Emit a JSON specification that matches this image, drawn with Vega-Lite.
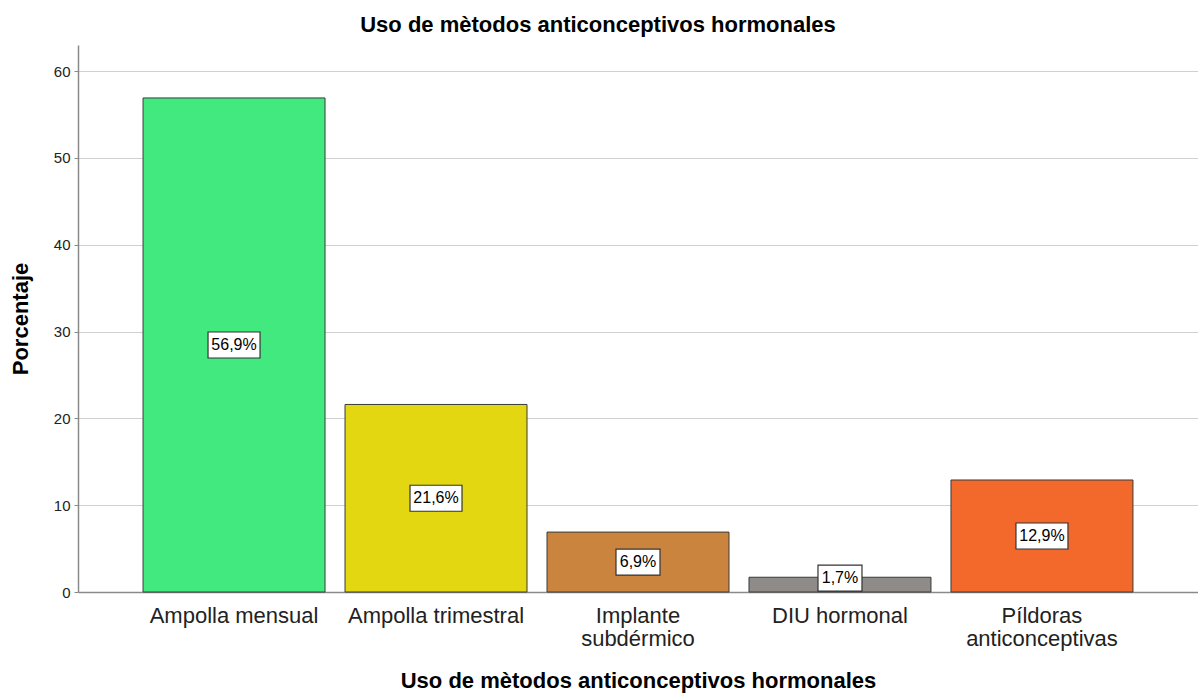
{
  "$schema": "https://vega.github.io/schema/vega-lite/v6.json",
  "autosize": {"type": "none"},
  "width": 1120,
  "height": 547,
  "padding": {"left": 78, "top": 45, "right": 0, "bottom": 103},
  "background": "white",
  "config": {
    "font": "Liberation Sans",
    "view": {"stroke": null}
  },
  "title": {
    "text": "Uso de mètodos anticonceptivos hormonales",
    "fontSize": 22,
    "fontWeight": "bold",
    "color": "#000000",
    "anchor": "middle",
    "dx": -40,
    "offset": 8
  },
  "data": {
    "values": [
      {"metodo": "Ampolla mensual", "pct": 56.9, "label": "56,9%"},
      {"metodo": "Ampolla trimestral", "pct": 21.6, "label": "21,6%"},
      {"metodo": "Implante subdérmico", "pct": 6.9, "label": "6,9%"},
      {"metodo": "DIU hormonal", "pct": 1.7, "label": "1,7%"},
      {"metodo": "Píldoras anticonceptivas", "pct": 12.9, "label": "12,9%"}
    ]
  },
  "transform": [
    {"calculate": "max(datum.pct / 2, 1.6)", "as": "mid"}
  ],
  "encoding": {
    "x": {
      "field": "metodo",
      "type": "nominal",
      "sort": null,
      "scale": {"paddingInner": 0.099, "paddingOuter": 0.322},
      "axis": {
        "title": "Uso de mètodos anticonceptivos hormonales",
        "titleFontSize": 22,
        "titleFontWeight": "bold",
        "titleColor": "#000000",
        "titlePadding": 21,
        "labelAngle": 0,
        "labelFontSize": 22,
        "labelColor": "#222222",
        "labelPadding": 13,
        "labelLineHeight": 23,
        "labelExpr": "datum.value == 'Implante subdérmico' ? ['Implante', 'subdérmico'] : datum.value == 'Píldoras anticonceptivas' ? ['Píldoras', 'anticonceptivas'] : datum.value",
        "ticks": false,
        "domain": true,
        "domainColor": "#8a8a8a",
        "domainWidth": 1.5,
        "grid": false
      }
    }
  },
  "layer": [
    {
      "mark": {"type": "bar", "stroke": "#3a3a3a", "strokeWidth": 1},
      "encoding": {
        "y": {
          "field": "pct",
          "type": "quantitative",
          "scale": {"domain": [0, 63], "nice": false},
          "axis": {
            "title": "Porcentaje",
            "titleFontSize": 22,
            "titleFontWeight": "bold",
            "titleColor": "#000000",
            "titlePadding": 21,
            "values": [0, 10, 20, 30, 40, 50, 60],
            "labelFontSize": 15,
            "labelColor": "#222222",
            "labelPadding": 4,
            "tickSize": 4,
            "tickColor": "#8a8a8a",
            "domainColor": "#8a8a8a",
            "domainWidth": 1.5,
            "gridColor": "#d0d0d0",
            "gridWidth": 1.2
          }
        },
        "color": {
          "field": "metodo",
          "type": "nominal",
          "legend": null,
          "scale": {
            "domain": ["Ampolla mensual", "Ampolla trimestral", "Implante subdérmico", "DIU hormonal", "Píldoras anticonceptivas"],
            "range": ["#42E97E", "#E2D711", "#CB843E", "#8E8B89", "#F2692B"]
          }
        }
      }
    },
    {
      "mark": {"type": "point", "filled": true, "fill": "white", "stroke": "#333333", "strokeWidth": 1.2, "opacity": 1},
      "encoding": {
        "y": {"field": "mid", "type": "quantitative"},
        "shape": {"condition": {"test": "datum.pct < 10", "value": "M-1,-0.59H1V0.59H-1Z"}, "value": "M-1,-0.5H1V0.5H-1Z"},
        "size": {"condition": {"test": "datum.pct < 10", "value": 1936}, "value": 2704}
      }
    },
    {
      "mark": {"type": "text", "fontSize": 16, "color": "#000000", "baseline": "middle", "align": "center"},
      "encoding": {
        "y": {"field": "mid", "type": "quantitative"},
        "text": {"field": "label"}
      }
    }
  ]
}
